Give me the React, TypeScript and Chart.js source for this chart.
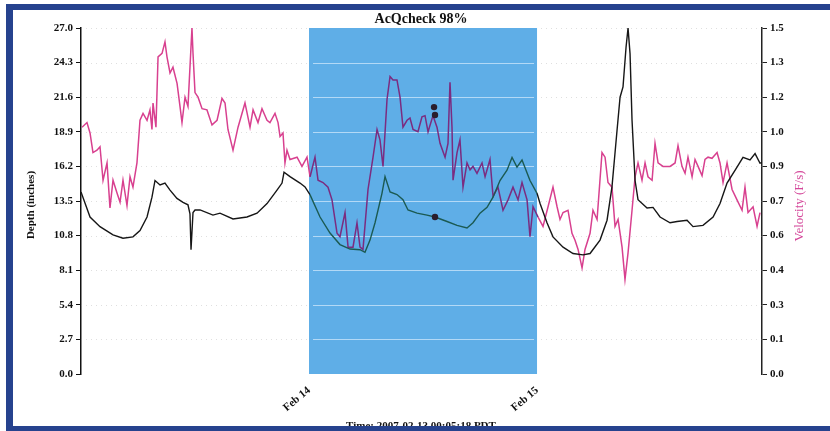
import React, { useEffect, useRef } from 'react';
import { Chart, registerables } from 'chart.js';

Chart.register(...registerables);

const TITLE = 'AcQcheck 98%';
const X_TITLE = 'Time: 2007-02-13 00:05:18 PDT';
const DEPTH_TITLE = 'Depth (inches)';
const VEL_TITLE = 'Velocity (F/s)';

const xTickHours = [24, 48];
const xTickLabels = ['Feb 14', 'Feb 15'];
const highlightStart = 24;
const highlightEnd = 48;
const hoursMax = 71.68;

const depthTicks = [0, 2.7, 5.4, 8.1, 10.8, 13.5, 16.2, 18.9, 21.6, 24.3, 27];
const velTicks = [0, 0.15, 0.3, 0.45, 0.6, 0.75, 0.9, 1.05, 1.2, 1.35, 1.5];
const velTickLabels = ['0.0', '0.1', '0.3', '0.4', '0.6', '0.7', '0.9', '1.0', '1.2', '1.3', '1.5'];

const depthHours = [0.0, 0.95, 2.0, 3.37, 4.42, 5.47, 6.21, 6.95, 7.47, 7.79, 8.32, 8.84, 9.37, 10.1, 10.74, 11.26, 11.47, 11.58, 11.79, 12.0, 12.53, 13.89, 14.63, 16.0, 17.47, 18.53, 19.58, 20.63, 21.16, 21.37, 22.0, 23.05, 23.58, 24.1, 25.16, 26.21, 27.26, 28.32, 29.37, 29.89, 30.42, 30.95, 31.68, 32.0, 32.53, 33.26, 33.89, 34.42, 35.37, 36.42, 37.26, 38.53, 39.58, 40.63, 41.26, 42.0, 42.74, 43.37, 44.1, 44.84, 45.37, 45.89, 46.42, 47.26, 48.0, 48.32, 49.05, 49.68, 50.74, 51.79, 52.84, 53.58, 54.63, 55.37, 55.89, 56.42, 56.74, 57.05, 57.37, 57.58, 57.79, 58.0, 58.32, 58.63, 59.58, 60.21, 60.95, 62.0, 62.74, 63.79, 64.42, 65.47, 66.53, 67.26, 68.0, 69.05, 69.68, 70.42, 70.95, 71.47, 71.68];
const depthValues = [14.2, 12.25, 11.5, 10.85, 10.6, 10.7, 11.2, 12.25, 13.8, 15.1, 14.75, 14.9, 14.35, 13.7, 13.4, 13.2, 12.5, 9.7, 12.6, 12.8, 12.8, 12.4, 12.55, 12.1, 12.25, 12.55, 13.3, 14.35, 14.9, 15.75, 15.4, 14.9, 14.6, 14.0, 12.25, 11.0, 10.1, 9.75, 9.7, 9.5, 10.45, 11.8, 14.1, 15.4, 14.2, 14.0, 13.6, 12.8, 12.55, 12.4, 12.25, 11.9, 11.6, 11.4, 11.8, 12.55, 13.0, 13.8, 15.1, 15.9, 16.9, 16.15, 16.7, 15.1, 14.1, 13.3, 11.8, 10.7, 9.9, 9.4, 9.3, 9.4, 10.45, 12.0, 14.6, 19.0, 21.6, 22.4, 25.5, 27.0, 25.0, 19.8, 15.1, 13.6, 12.95, 13.0, 12.25, 11.8, 11.9, 12.0, 11.5, 11.6, 12.25, 13.3, 14.9, 16.15, 16.9, 16.7, 17.2, 16.45, 16.5];

const velHours = [0.11, 0.63, 0.95, 1.26, 1.68, 2.0, 2.32, 2.74, 3.05, 3.37, 3.79, 4.11, 4.42, 4.84, 5.16, 5.47, 5.89, 6.21, 6.53, 6.95, 7.26, 7.47, 7.58, 7.89, 8.11, 8.53, 8.84, 9.05, 9.37, 9.68, 10.11, 10.42, 10.63, 10.95, 11.26, 11.68, 11.79, 12.0, 12.32, 12.74, 13.26, 13.79, 14.32, 14.84, 15.16, 15.47, 16.0, 16.53, 17.26, 17.79, 18.11, 18.63, 19.05, 19.58, 19.89, 20.42, 20.74, 20.95, 21.26, 21.47, 21.68, 22.0, 22.74, 23.26, 23.79, 24.11, 24.63, 24.95, 25.47, 26.0, 26.42, 26.95, 27.26, 27.79, 28.11, 28.63, 29.05, 29.37, 29.68, 30.21, 30.74, 31.16, 31.47, 31.79, 32.21, 32.53, 32.84, 33.26, 33.58, 33.89, 34.32, 34.63, 34.95, 35.47, 35.89, 36.21, 36.53, 37.05, 37.47, 37.79, 38.32, 38.63, 38.84, 39.05, 39.16, 39.58, 39.89, 40.21, 40.63, 40.95, 41.26, 41.68, 42.21, 42.53, 43.05, 43.37, 43.89, 44.42, 44.95, 45.47, 46.0, 46.42, 46.95, 47.26, 47.58, 48.11, 48.63, 49.16, 49.68, 50.11, 50.42, 50.74, 51.26, 51.68, 52.0, 52.32, 52.74, 53.05, 53.58, 53.89, 54.32, 54.84, 55.16, 55.47, 55.89, 56.21, 56.53, 56.95, 57.26, 57.58, 58.0, 58.32, 58.63, 59.05, 59.37, 59.68, 60.11, 60.42, 60.74, 61.26, 62.0, 62.53, 62.84, 63.26, 63.58, 63.89, 64.32, 64.63, 64.95, 65.37, 65.68, 66.0, 66.42, 66.95, 67.26, 67.58, 68.0, 68.53, 69.05, 69.58, 69.89, 70.21, 70.74, 71.16, 71.47];
const velValues = [1.07, 1.09, 1.045, 0.96, 0.97, 0.985, 0.84, 0.915, 0.72, 0.84, 0.785, 0.745, 0.84, 0.73, 0.855, 0.81, 0.915, 1.10, 1.13, 1.10, 1.145, 1.06, 1.175, 1.07, 1.375, 1.39, 1.44, 1.375, 1.305, 1.33, 1.26, 1.16, 1.09, 1.20, 1.16, 1.50, 1.39, 1.22, 1.20, 1.15, 1.145, 1.08, 1.10, 1.195, 1.175, 1.06, 0.97, 1.07, 1.175, 1.07, 1.145, 1.09, 1.15, 1.10, 1.09, 1.13, 1.09, 1.03, 1.045, 0.915, 0.97, 0.93, 0.94, 0.90, 0.94, 0.855, 0.94, 0.84, 0.83, 0.81, 0.755, 0.61, 0.595, 0.70, 0.55, 0.55, 0.655, 0.55, 0.54, 0.80, 0.94, 1.06, 1.015, 0.90, 1.19, 1.29, 1.275, 1.275, 1.20, 1.07, 1.10, 1.11, 1.06, 1.05, 1.115, 1.12, 1.05, 1.12, 1.07, 1.0, 0.94, 1.0, 1.265, 1.07, 0.84, 0.96, 1.015, 0.81, 0.915, 0.885, 0.90, 0.87, 0.915, 0.855, 0.93, 0.77, 0.81, 0.71, 0.755, 0.81, 0.755, 0.83, 0.755, 0.595, 0.725, 0.68, 0.64, 0.725, 0.81, 0.725, 0.67, 0.70, 0.71, 0.61, 0.58, 0.54, 0.46, 0.54, 0.61, 0.71, 0.67, 0.96, 0.94, 0.83, 0.81, 0.64, 0.67, 0.55, 0.41, 0.525, 0.71, 0.855, 0.915, 0.84, 0.915, 0.855, 0.84, 1.0, 0.915, 0.90, 0.90, 0.915, 0.99, 0.90, 0.87, 0.94, 0.855, 0.93, 0.90, 0.86, 0.93, 0.94, 0.935, 0.96, 0.915, 0.83, 0.915, 0.80, 0.755, 0.71, 0.81, 0.70, 0.725, 0.64, 0.70];

const depthMarkerHours = [37.26];
const depthMarkerValues = [12.25];
const velMarkerHours = [37.16, 37.26];
const velMarkerValues = [1.157, 1.123];

const SERIF = '"Liberation Serif", "Times New Roman", "DejaVu Serif", serif';

function pairs(hs: number[], vs: number[]) {
  const n = Math.min(hs.length, vs.length);
  const out: { x: number; y: number }[] = [];
  for (let i = 0; i < n; i++) out.push({ x: hs[i], y: vs[i] });
  return out;
}

export default function App() {
  const ref = useRef<HTMLCanvasElement>(null);

  useEffect(() => {
    const canvas = ref.current;
    if (!canvas) return;

    const inHighlight = (c: any) => {
      const x = c.p0.parsed.x;
      return x >= highlightStart && x < highlightEnd;
    };

    const decor = {
      id: 'decor',
      beforeDatasetsDraw(chart: any) {
        const { ctx, chartArea: a, scales } = chart;
        const xs = scales.x;
        const ys = scales.y;
        ctx.save();
        ctx.strokeStyle = 'rgba(150,150,150,0.3)';
        ctx.lineWidth = 1;
        ctx.setLineDash([1, 4]);
        depthTicks.forEach((t) => {
          if (t === 0) return;
          const py = Math.round(ys.getPixelForValue(t)) + 0.5;
          ctx.beginPath();
          ctx.moveTo(a.left, py);
          ctx.lineTo(a.right, py);
          ctx.stroke();
        });
        ctx.setLineDash([]);
        const x0 = xs.getPixelForValue(highlightStart);
        const x1 = xs.getPixelForValue(highlightEnd);
        ctx.fillStyle = '#5faee7';
        ctx.fillRect(x0, a.top, x1 - x0, a.bottom - a.top);
        ctx.strokeStyle = 'rgba(200,228,250,0.8)';
        ctx.lineWidth = 1.2;
        depthTicks.forEach((t) => {
          if (t === 0 || t === 27) return;
          const py = Math.round(ys.getPixelForValue(t)) + 0.5;
          ctx.beginPath();
          ctx.moveTo(x0 + 4, py);
          ctx.lineTo(x1 - 3, py);
          ctx.stroke();
        });
        ctx.restore();
      },
      afterDraw(chart: any) {
        const { ctx, width, height } = chart;
        ctx.save();
        ctx.fillStyle = '#111';
        ctx.textAlign = 'center';
        ctx.textBaseline = 'middle';
        ctx.font = `bold 14px ${SERIF}`;
        ctx.fillText(TITLE, 421, 19);

        ctx.font = `bold 11px ${SERIF}`;
        ctx.textBaseline = 'alphabetic';
        ctx.fillText(X_TITLE, 421, 429);

        ctx.save();
        ctx.translate(31, 205);
        ctx.rotate(-Math.PI / 2);
        ctx.textBaseline = 'middle';
        ctx.font = `bold 11px ${SERIF}`;
        ctx.fillText(DEPTH_TITLE, 0, 0);
        ctx.restore();

        ctx.save();
        ctx.translate(800, 206);
        ctx.rotate(-Math.PI / 2);
        ctx.textBaseline = 'middle';
        ctx.fillStyle = '#d4479a';
        ctx.font = `13px ${SERIF}`;
        ctx.fillText(VEL_TITLE, 0, 0);
        ctx.restore();

        // frame
        ctx.fillStyle = '#26428e';
        ctx.fillRect(6, 4, width - 6, 6);
        ctx.fillRect(6, 4, 7, height - 4);
        ctx.fillRect(6, height - 5, width - 6, 5);
        ctx.restore();
      },
    };

    const tickFont = { family: SERIF, weight: 'bold' as const, size: 11 };

    const chart = new Chart(canvas, {
      type: 'line',
      data: {
        datasets: [
          {
            label: 'Depth marker',
            data: pairs(depthMarkerHours, depthMarkerValues),
            yAxisID: 'y',
            showLine: false,
            pointRadius: 3.2,
            pointBackgroundColor: '#2a1d2c',
            pointBorderWidth: 0,
            order: -1,
          },
          {
            label: 'Velocity marker',
            data: pairs(velMarkerHours, velMarkerValues),
            yAxisID: 'y2',
            showLine: false,
            pointRadius: 3.2,
            pointBackgroundColor: '#2a1d2c',
            pointBorderWidth: 0,
            order: -1,
          },
          {
            label: 'Depth',
            data: pairs(depthHours, depthValues),
            yAxisID: 'y',
            borderColor: '#161616',
            borderWidth: 1.4,
            pointRadius: 0,
            tension: 0,
            segment: { borderColor: (c: any) => (inHighlight(c) ? '#1b5a52' : undefined) },
            order: 1,
          },
          {
            label: 'Velocity',
            data: pairs(velHours, velValues),
            yAxisID: 'y2',
            borderColor: '#d8408f',
            borderWidth: 1.5,
            pointRadius: 0,
            tension: 0,
            segment: { borderColor: (c: any) => (inHighlight(c) ? '#7b2c80' : undefined) },
            order: 2,
          },
        ],
      },
      options: {
        responsive: false,
        animation: false,
        devicePixelRatio: 1,
        layout: { padding: { top: 28, left: 0, right: 0, bottom: 0 } },
        plugins: {
          legend: { display: false },
          tooltip: { enabled: false },
          title: { display: false },
        },
        scales: {
          x: {
            type: 'linear',
            min: 0,
            max: hoursMax,
            grid: { display: false },
            border: { display: false },
            afterBuildTicks: (s: any) => {
              s.ticks = xTickHours.map((v) => ({ value: v }));
            },
            afterFit: (s: any) => {
              s.height = 57;
            },
            ticks: {
              autoSkip: false,
              minRotation: 40,
              maxRotation: 40,
              padding: 2,
              color: '#111',
              font: tickFont,
              callback: (v: any) => {
                const i = xTickHours.indexOf(Number(v));
                return i >= 0 ? xTickLabels[i] : '';
              },
            },
          },
          y: {
            position: 'left',
            min: 0,
            max: 27,
            afterBuildTicks: (s: any) => {
              s.ticks = depthTicks.map((v) => ({ value: v }));
            },
            afterFit: (s: any) => {
              s.width = 81;
            },
            grid: { drawOnChartArea: false, tickLength: 5, color: '#111', lineWidth: 1 },
            border: { display: true, color: '#111', width: 1.5 },
            ticks: {
              padding: 3,
              color: '#111',
              font: tickFont,
              callback: (v: any) => Number(v).toFixed(1),
            },
          },
          y2: {
            position: 'right',
            min: 0,
            max: 1.5,
            afterBuildTicks: (s: any) => {
              s.ticks = velTicks.map((v) => ({ value: v }));
            },
            afterFit: (s: any) => {
              s.width = 68;
            },
            grid: { drawOnChartArea: false, tickLength: 5, color: '#222', lineWidth: 1 },
            border: { display: true, color: '#222', width: 1.5 },
            ticks: {
              padding: 3,
              color: '#111',
              font: tickFont,
              callback: (_v: any, i: number) => velTickLabels[i],
            },
          },
        },
      },
      plugins: [decor],
    } as any);

    return () => chart.destroy();
  }, []);

  return (
    <div style={{ position: 'fixed', left: 0, top: 0, width: 830, height: 431, background: '#fff' }}>
      <canvas ref={ref} width={830} height={431} style={{ display: 'block' }} />
    </div>
  );
}
